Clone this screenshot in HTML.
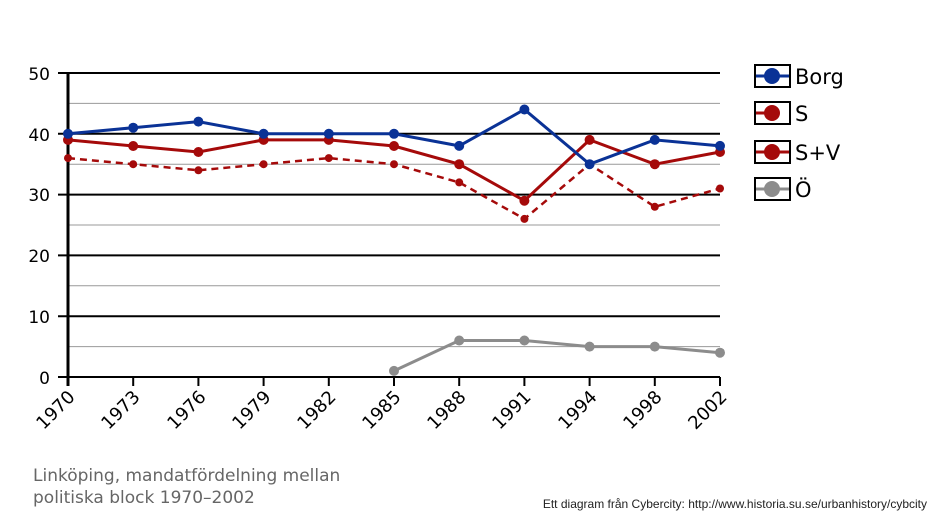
<!DOCTYPE html>
<html><head><style>body{margin:0;background:#fff}svg{display:block}</style></head><body>
<svg width="938" height="521" xmlns="http://www.w3.org/2000/svg" font-family="DejaVu Sans, sans-serif">
<g stroke="#999" stroke-width="1">
<line x1="68" x2="720" y1="346.6" y2="346.6"/><line x1="68" x2="720" y1="285.8" y2="285.8"/><line x1="68" x2="720" y1="225" y2="225"/><line x1="68" x2="720" y1="164.2" y2="164.2"/><line x1="68" x2="720" y1="103.4" y2="103.4"/>
</g>
<g stroke="#000" stroke-width="2">
<line x1="58" x2="720" y1="73" y2="73"/><line x1="58" x2="720" y1="133.8" y2="133.8"/><line x1="58" x2="720" y1="194.6" y2="194.6"/><line x1="58" x2="720" y1="255.4" y2="255.4"/><line x1="58" x2="720" y1="316.2" y2="316.2"/><line x1="58" x2="720" y1="377" y2="377"/>
<line x1="68" x2="68" y1="73" y2="386" stroke-width="3"/>
<line x1="133.2" x2="133.2" y1="377" y2="386"/><line x1="198.4" x2="198.4" y1="377" y2="386"/><line x1="263.6" x2="263.6" y1="377" y2="386"/><line x1="328.8" x2="328.8" y1="377" y2="386"/><line x1="394" x2="394" y1="377" y2="386"/><line x1="459.2" x2="459.2" y1="377" y2="386"/><line x1="524.4" x2="524.4" y1="377" y2="386"/><line x1="589.6" x2="589.6" y1="377" y2="386"/><line x1="654.8" x2="654.8" y1="377" y2="386"/><line x1="720" x2="720" y1="377" y2="386"/>
</g>
<g font-size="17" text-anchor="end" fill="#000">
<text x="50" y="80">50</text><text x="50" y="141">40</text><text x="50" y="201">30</text><text x="50" y="262">20</text><text x="50" y="323">10</text><text x="50" y="384">0</text>
</g>
<g font-size="18" text-anchor="end" fill="#000">
<text transform="translate(76,398) rotate(-45)">1970</text>
<text transform="translate(141,398) rotate(-45)">1973</text>
<text transform="translate(207,398) rotate(-45)">1976</text>
<text transform="translate(272,398) rotate(-45)">1979</text>
<text transform="translate(337,398) rotate(-45)">1982</text>
<text transform="translate(402,398) rotate(-45)">1985</text>
<text transform="translate(467,398) rotate(-45)">1988</text>
<text transform="translate(532,398) rotate(-45)">1991</text>
<text transform="translate(598,398) rotate(-45)">1994</text>
<text transform="translate(663,398) rotate(-45)">1998</text>
<text transform="translate(728,398) rotate(-45)">2002</text>
</g>
<polyline fill="none" stroke="#a50a0a" stroke-width="2.5" stroke-dasharray="7,5" points="68,158.1 133.2,164.2 198.4,170.3 263.6,164.2 328.8,158.1 394,164.2 459.2,182.4 524.4,218.9 589.6,164.2 654.8,206.8 720,188.5"/>
<g fill="#a50a0a"><circle cx="68" cy="158.1" r="4"/><circle cx="133.2" cy="164.2" r="4"/><circle cx="198.4" cy="170.3" r="4"/><circle cx="263.6" cy="164.2" r="4"/><circle cx="328.8" cy="158.1" r="4"/><circle cx="394" cy="164.2" r="4"/><circle cx="459.2" cy="182.4" r="4"/><circle cx="524.4" cy="218.9" r="4"/><circle cx="589.6" cy="164.2" r="4"/><circle cx="654.8" cy="206.8" r="4"/><circle cx="720" cy="188.5" r="4"/></g>
<polyline fill="none" stroke="#a50a0a" stroke-width="3" points="68,139.9 133.2,146 198.4,152 263.6,139.9 328.8,139.9 394,146 459.2,164.2 524.4,200.7 589.6,139.9 654.8,164.2 720,152"/>
<g fill="#a50a0a"><circle cx="68" cy="139.9" r="5"/><circle cx="133.2" cy="146" r="5"/><circle cx="198.4" cy="152" r="5"/><circle cx="263.6" cy="139.9" r="5"/><circle cx="328.8" cy="139.9" r="5"/><circle cx="394" cy="146" r="5"/><circle cx="459.2" cy="164.2" r="5"/><circle cx="524.4" cy="200.7" r="5"/><circle cx="589.6" cy="139.9" r="5"/><circle cx="654.8" cy="164.2" r="5"/><circle cx="720" cy="152" r="5"/></g>
<polyline fill="none" stroke="#0a3296" stroke-width="3" points="68,133.8 133.2,127.7 198.4,121.6 263.6,133.8 328.8,133.8 394,133.8 459.2,145.9 524.4,109.5 589.6,164.2 654.8,139.9 720,145.9"/>
<g fill="#0a3296"><circle cx="68" cy="133.8" r="5"/><circle cx="133.2" cy="127.7" r="5"/><circle cx="198.4" cy="121.6" r="5"/><circle cx="263.6" cy="133.8" r="5"/><circle cx="328.8" cy="133.8" r="5"/><circle cx="394" cy="133.8" r="5"/><circle cx="459.2" cy="145.9" r="5"/><circle cx="524.4" cy="109.5" r="5"/><circle cx="589.6" cy="164.2" r="5"/><circle cx="654.8" cy="139.9" r="5"/><circle cx="720" cy="145.9" r="5"/></g>
<polyline fill="none" stroke="#8c8c8c" stroke-width="3" points="394,370.9 459.2,340.5 524.4,340.5 589.6,346.6 654.8,346.6 720,352.7"/>
<g fill="#8c8c8c"><circle cx="394" cy="370.9" r="5"/><circle cx="459.2" cy="340.5" r="5"/><circle cx="524.4" cy="340.5" r="5"/><circle cx="589.6" cy="346.6" r="5"/><circle cx="654.8" cy="346.6" r="5"/><circle cx="720" cy="352.7" r="5"/></g>
<g stroke="#000" stroke-width="2" fill="#fff">
<rect x="755" y="65" width="35" height="22"/><rect x="755" y="102" width="35" height="22"/><rect x="755" y="141" width="35" height="22"/><rect x="755" y="178" width="35" height="22"/>
</g>
<line x1="756" x2="789" y1="76" y2="76" stroke="#0a3296" stroke-width="3"/><circle cx="772" cy="76" r="8" fill="#0a3296"/>
<line x1="756" x2="772" y1="113" y2="113" stroke="#a50a0a" stroke-width="3"/><circle cx="772" cy="113" r="8" fill="#a50a0a"/>
<line x1="756" x2="789" y1="152" y2="152" stroke="#a50a0a" stroke-width="3"/><circle cx="772" cy="152" r="8" fill="#a50a0a"/>
<line x1="756" x2="789" y1="189" y2="189" stroke="#8c8c8c" stroke-width="3"/><circle cx="772" cy="189" r="8" fill="#8c8c8c"/>
<g font-size="21" fill="#000">
<text x="795" y="84">Borg</text><text x="795" y="121">S</text><text x="795" y="160">S+V</text><text x="795" y="197">Ö</text>
</g>
<g font-size="17" fill="#666">
<text x="33" y="481">Linköping, mandatfördelning mellan</text>
<text x="33" y="503">politiska block 1970–2002</text>
</g>
<text x="927" y="508" font-size="12" text-anchor="end" fill="#222" font-family="Liberation Sans, sans-serif">Ett diagram från Cybercity: http://www.historia.su.se/urbanhistory/cybcity</text>
</svg>
</body></html>
